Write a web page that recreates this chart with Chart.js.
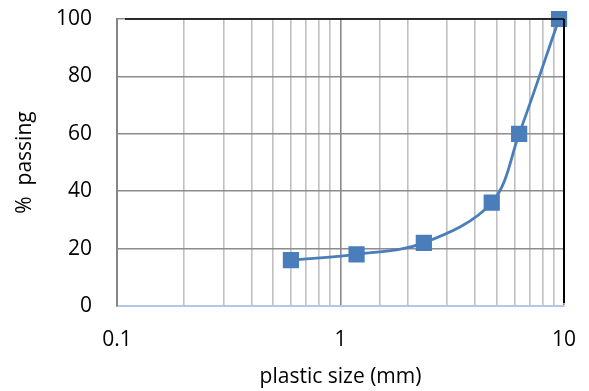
<!DOCTYPE html>
<html>
<head>
<meta charset="utf-8">
<script src="https://cdn.jsdelivr.net/npm/chart.js@4.4.1/dist/chart.umd.min.js"></script>
<style>
  html, body { margin: 0; padding: 0; background: #fff; }
  #wrap { width: 589px; height: 391px; }
</style>
</head>
<body>
<div id="wrap"><canvas id="myChart"></canvas></div>
<script>
// sieve sizes (mm) and % passing
var sizes = [0.6, 1.18, 2.36, 4.75, 6.3, 9.5];
var passing = [16, 18, 22, 36, 60, 100];
var xTickLabels = [0.1, 1, 10];
var yTickLabels = [0, 20, 40, 60, 80, 100];

var font = '"Open Sans", Lato, sans-serif';

function isDecade(v) {
  var l = Math.log10(v);
  return Math.abs(l - Math.round(l)) < 1e-6;
}

// top and right frame lines like the Excel plot area
var frame = {
  id: 'frame',
  afterDatasetsDraw: function (chart) {
    var a = chart.chartArea, c = chart.ctx;
    c.save();
    c.strokeStyle = '#000';
    c.lineWidth = 1.5;
    c.beginPath();
    c.moveTo(a.left + 8, a.top);
    c.lineTo(a.right, a.top);
    c.stroke();
    c.lineWidth = 2;
    c.beginPath();
    c.moveTo(a.right, a.top);
    c.lineTo(a.right, a.bottom - 3);
    c.stroke();
    c.restore();
  }
};

var ctx = document.getElementById('myChart').getContext('2d');
var myChart = new Chart(ctx, {
  type: 'line',
  data: {
    datasets: [{
      data: sizes.map(function (s, i) { return { x: s, y: passing[i] }; }),
      borderColor: '#4a7ebb',
      backgroundColor: '#4a7ebb',
      borderWidth: 2.8,
      pointStyle: 'rect',
      pointRadius: 9.5,
      pointHoverRadius: 9.5,
      tension: 0.35,
      clip: false
    }]
  },
  options: {
    responsive: true,
    maintainAspectRatio: false,
    animation: false,
    layout: { padding: { top: 19, right: 25, left: 0, bottom: 0 } },
    plugins: { legend: { display: false }, tooltip: { enabled: false } },
    scales: {
      x: {
        type: 'logarithmic',
        min: 0.1,
        max: 10,
        afterFit: function (s) {
          s.height = 85;
          s.paddingLeft = 0;
          s.paddingRight = 0;
        },
        grid: {
          color: function (c) { return c.tick && isDecade(c.tick.value) ? '#8a8a8a' : '#c0c0c0'; },
          lineWidth: 1.6,
          drawTicks: false
        },
        border: { color: '#b4c7e7', width: 2 },
        ticks: {
          autoSkip: false,
          maxRotation: 0,
          padding: 21,
          color: '#000',
          font: { family: font, size: 21 },
          callback: function (v) {
            return xTickLabels.some(function (t) { return Math.abs(t - v) < 1e-9; }) ? String(v) : '';
          }
        },
        title: {
          display: true,
          text: 'plastic size (mm)',
          color: '#000',
          font: { family: font, size: 21 },
          padding: { top: 0, bottom: 1 }
        }
      },
      y: {
        min: 0,
        max: 100,
        afterFit: function (s) {
          s.width = 117;
          s.paddingTop = 0;
          s.paddingBottom = 0;
        },
        afterBuildTicks: function (s) {
          s.ticks = yTickLabels.map(function (v) { return { value: v }; });
        },
        grid: { color: '#8c8c8c', lineWidth: 1.5, drawTicks: false },
        border: { color: '#868686', width: 2 },
        ticks: {
          padding: 25,
          color: '#000',
          font: { family: font, size: 21 }
        },
        title: {
          display: true,
          text: '%  passing',
          color: '#000',
          font: { family: font, size: 21 },
          padding: { top: 12, bottom: 0 }
        }
      }
    }
  },
  plugins: [frame]
});
</script>
</body>
</html>
